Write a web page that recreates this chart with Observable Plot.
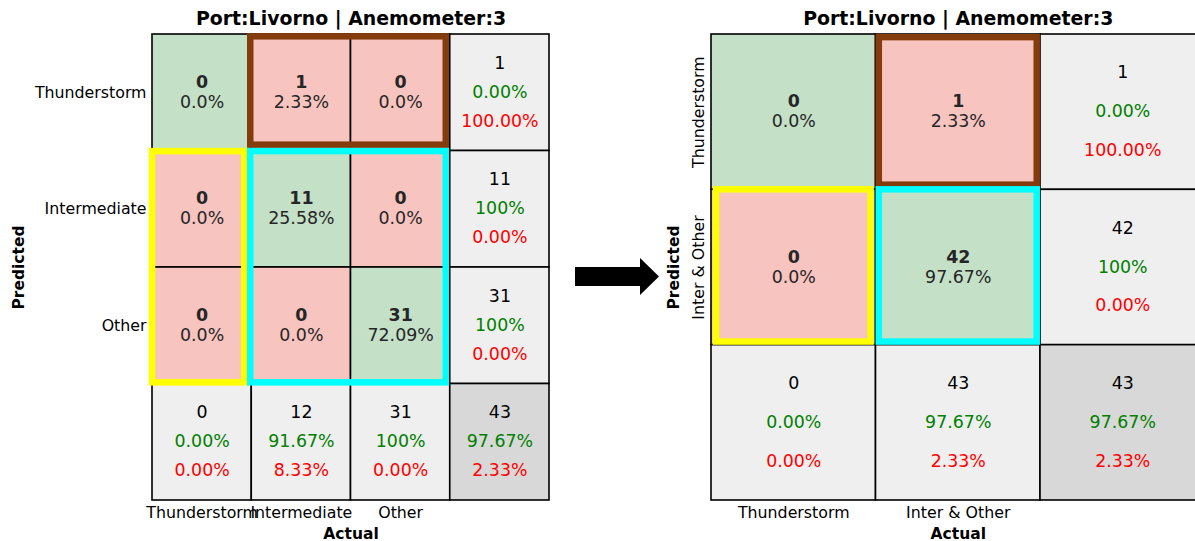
<!DOCTYPE html>
<html><head><meta charset="utf-8">
<script src="https://cdn.jsdelivr.net/npm/d3@7"></script>
<script src="https://cdn.jsdelivr.net/npm/@observablehq/plot@0.6"></script>
<style>
html,body{margin:0;padding:0;background:#fff;}
body{width:1195px;height:541px;overflow:hidden;position:relative;font-family:"DejaVu Sans";}
.panel{position:absolute;top:0;}
.panel svg{max-width:none !important;}
#left{left:0;width:600px;}
#right{left:600px;width:620px;}
#arrow{position:absolute;left:0;top:0;z-index:5;pointer-events:none;}
</style></head><body>
<div id="left" class="panel"></div>
<div id="right" class="panel"></div>
<svg id="arrow" width="1195" height="541"><polygon points="575,267 640,267 640,258 659,276.5 640,295 640,286 575,286" fill="#000"/></svg>
<script>
// ---------- data ----------
const chartTitle = "Port:Livorno | Anemometer:3";
const xLabel = "Actual";
const yLabel = "Predicted";

// left matrix (rows = predicted, cols = actual)
const leftCats = ["Thunderstorm", "Intermediate", "Other"];
const leftCounts = [[0, 1, 0], [0, 11, 0], [0, 0, 31]];
const leftPct = [["0.0%", "2.33%", "0.0%"], ["0.0%", "25.58%", "0.0%"], ["0.0%", "0.0%", "72.09%"]];
const leftRowTotals = [1, 11, 31];
const leftRowGood = ["0.00%", "100%", "100%"];
const leftRowBad = ["100.00%", "0.00%", "0.00%"];
const leftColTotals = [0, 12, 31];
const leftColGood = ["0.00%", "91.67%", "100%"];
const leftColBad = ["0.00%", "8.33%", "0.00%"];
const leftGrand = [43, "97.67%", "2.33%"];
const leftGroups = [
  {name: "brown", c0: 1, c1: 3, r0: 0, r1: 1},
  {name: "yellow", c0: 0, c1: 1, r0: 1, r1: 3},
  {name: "cyan", c0: 1, c1: 3, r0: 1, r1: 3}
];

// right matrix
const rightCats = ["Thunderstorm", "Inter & Other"];
const rightCounts = [[0, 1], [0, 42]];
const rightPct = [["0.0%", "2.33%"], ["0.0%", "97.67%"]];
const rightRowTotals = [1, 42];
const rightRowGood = ["0.00%", "100%"];
const rightRowBad = ["100.00%", "0.00%"];
const rightColTotals = [0, 43];
const rightColGood = ["0.00%", "97.67%"];
const rightColBad = ["0.00%", "2.33%"];
const rightGrand = [43, "97.67%", "2.33%"];
const rightGroups = [
  {name: "brown", c0: 1, c1: 2, r0: 0, r1: 1},
  {name: "yellow", c0: 0, c1: 1, r0: 1, r1: 2},
  {name: "cyan", c0: 1, c1: 2, r0: 1, r1: 2}
];

// ---------- styles ----------
const cellColors = {diag: "#c4e1c8", off: "#f8c4bf", total: "#efefef", grand: "#d8d8d8"};
const groupColors = {brown: "#843c0c", yellow: "#ffff00", cyan: "#00ffff"};
const FONT = "DejaVu Sans";
const TICK = 15.8, CELL = 17.4;

function buildTable(cats, counts, pct, rowT, rowG, rowB, colT, colG, colB, grand) {
  const n = cats.length;
  const main = [], totals = [];
  for (let r = 0; r < n; r++) for (let c = 0; c < n; c++)
    main.push({col: c, row: r, kind: r === c ? "diag" : "off", count: counts[r][c], pct: pct[r][c]});
  for (let r = 0; r < n; r++) totals.push({col: n, row: r, kind: "total", a: rowT[r], g: rowG[r], b: rowB[r]});
  for (let c = 0; c < n; c++) totals.push({col: c, row: n, kind: "total", a: colT[c], g: colG[c], b: colB[c]});
  totals.push({col: n, row: n, kind: "grand", a: grand[0], g: grand[1], b: grand[2]});
  return {main, totals, n};
}

function draw(el, cats, table, groups, opts) {
  const {main, totals, n} = table;
  const all = main.concat(totals);
  const ticks = cats.map((_, i) => i + 0.5);
  const fmt = d => cats[Math.floor(d)];
  const plot = Plot.plot({
    width: opts.width, height: 541,
    marginLeft: opts.ml, marginRight: opts.mr, marginTop: 34, marginBottom: 41,
    style: {fontFamily: FONT, fontSize: TICK + "px", background: "transparent", overflow: "visible"},
    x: {domain: [0, n + 1]},
    y: {domain: [0, n + 1], reverse: true},
    color: {type: "identity"},
    marks: [
      Plot.rect(all, {x1: d => d.col, x2: d => d.col + 1, y1: d => d.row, y2: d => d.row + 1,
        fill: d => cellColors[d.kind], stroke: "black", strokeWidth: 1.6}),
      Plot.rect(groups, {
        x1: d => d.c0 + opts.inset[d.name][0], x2: d => d.c1 - opts.inset[d.name][1],
        y1: d => d.r0 + opts.inset[d.name][2], y2: d => d.r1 - opts.inset[d.name][3],
        fill: "none", stroke: d => groupColors[d.name], strokeWidth: 6.5, strokeLinejoin: "miter"}),
      Plot.text(main, {x: d => d.col + 0.5, y: d => d.row + 0.5, text: d => String(d.count),
        fontWeight: "bold", fontSize: CELL, fill: "#262626", dy: -10.5}),
      Plot.text(main, {x: d => d.col + 0.5, y: d => d.row + 0.5, text: d => d.pct,
        fontSize: CELL, fill: "#262626", dy: 9.5}),
      Plot.text(totals, {x: d => d.col + 0.5, y: d => d.row + 0.25, text: d => String(d.a), fontSize: CELL, fill: "black", dy: -0.5}),
      Plot.text(totals, {x: d => d.col + 0.5, y: d => d.row + 0.5, text: d => d.g, fontSize: CELL, fill: "green", dy: -0.5}),
      Plot.text(totals, {x: d => d.col + 0.5, y: d => d.row + 0.75, text: d => d.b, fontSize: CELL, fill: "red", dy: -0.5}),
      Plot.axisX({ticks, tickFormat: fmt, tickSize: 0, tickPadding: 6.5, label: null, fontSize: TICK, fill: "black"}),
      Plot.axisY({ticks, tickFormat: fmt, tickSize: 0, tickPadding: opts.yPad, tickRotate: opts.yRot, label: null, fontSize: TICK, fill: "black"}),
      Plot.text([chartTitle], {frameAnchor: "top", dy: -16, text: d => d, fontWeight: "bold", fontSize: 18.9, fill: "black", lineAnchor: "middle"}),
      Plot.text([xLabel], {frameAnchor: "bottom", dy: 33.5, text: d => d, fontWeight: "bold", fontSize: 15.5, fill: "black", lineAnchor: "middle"}),
      Plot.text([yLabel], {frameAnchor: "left", dx: opts.ylabDx, text: d => d, rotate: -90, fontWeight: "bold", fontSize: 15.5, fill: "black", textAnchor: "middle", lineAnchor: "middle"})
    ]
  });
  document.getElementById(el).appendChild(plot);
}

const leftTable = buildTable(leftCats, leftCounts, leftPct, leftRowTotals, leftRowGood, leftRowBad, leftColTotals, leftColGood, leftColBad, leftGrand);
const rightTable = buildTable(rightCats, rightCounts, rightPct, rightRowTotals, rightRowGood, rightRowBad, rightColTotals, rightColGood, rightColBad, rightGrand);

draw("left", leftCats, leftTable, leftGroups, {
  width: 600, ml: 152, mr: 51, yPad: 6, yRot: 0, ylabDx: -133,
  inset: {brown: [-0.01, 0.04, 0.02, 0.05], yellow: [0.0, 0.07, 0.005, 0.01], cyan: [-0.01, 0.04, 0.005, 0.01]}
});
draw("right", rightCats, rightTable, rightGroups, {
  width: 620, ml: 111, mr: 15.5, yPad: 8, yRot: -90, ylabDx: -37.5,
  inset: {brown: [0.02, 0.02, 0.02, 0.03], yellow: [0.03, 0.03, 0.0, 0.02], cyan: [0.02, 0.02, 0.0, 0.02]}
});
</script>
</body></html>
